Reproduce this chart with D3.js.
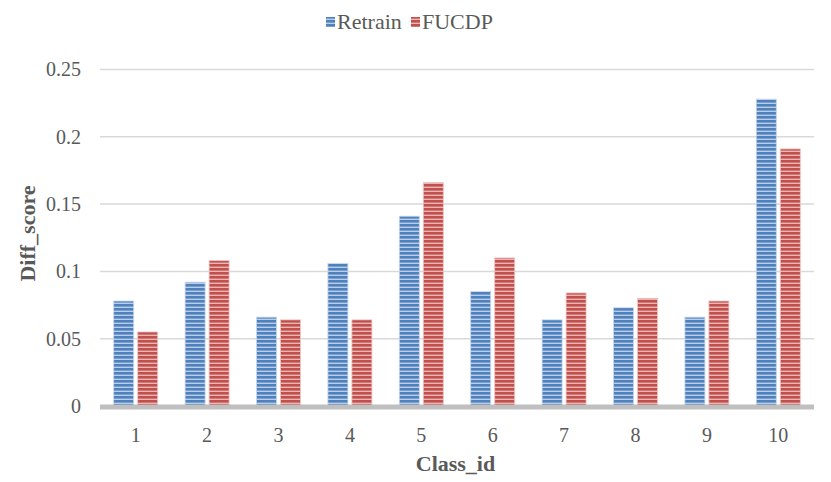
<!DOCTYPE html>
<html><head><meta charset="utf-8">
<script src="https://cdn.jsdelivr.net/npm/d3@7"></script>
<style>body{margin:0;background:#fff}svg{display:block}</style>
</head><body>
<svg id="c" width="831" height="482"></svg>
<script>
const categories = ["1","2","3","4","5","6","7","8","9","10"];
const retrain = [0.078,0.092,0.066,0.106,0.141,0.085,0.064,0.073,0.066,0.228];
const fucdp = [0.055,0.108,0.064,0.064,0.166,0.110,0.084,0.080,0.078,0.191];
const seriesNames = ["Retrain","FUCDP"];
const yTicks = [0,0.05,0.1,0.15,0.2,0.25];
const yTickLabels = ["0","0.05","0.1","0.15","0.2","0.25"];

const svg = d3.select("#c");
const font = "'Liberation Serif','Times New Roman',serif";
const M = {l:100, r:814, t:69.5, b:406};
const x = d3.scaleBand().domain(categories).range([M.l, M.r]);
const y = d3.scaleLinear().domain([0,0.25]).range([M.b, M.t]);
const barW = 20, gap = 4;

const defs = svg.append("defs");
function stripes(id, dark, light){
  const p = defs.append("pattern").attr("id",id).attr("patternUnits","userSpaceOnUse")
    .attr("width",8).attr("height",4);
  p.append("rect").attr("width",8).attr("height",4).attr("fill",light);
  p.append("rect").attr("y",0).attr("width",8).attr("height",2.6).attr("fill",dark);
}
stripes("pb","#4f81bd","#b9cde9");
stripes("pr","#c0504d","#ebb5b3");
const fills = ["url(#pb)","url(#pr)"];
const edge = ["#c5d6ee","#eec4c3"];

// gridlines
svg.append("g").selectAll("line").data(yTicks.slice(1)).join("line")
  .attr("x1",M.l).attr("x2",M.r).attr("y1",d=>y(d)).attr("y2",d=>y(d))
  .attr("stroke","#d9d9d9").attr("stroke-width",1.5);

// y axis labels
const yAxis = d3.axisLeft(y).tickValues(yTicks).tickFormat((d,i)=>yTickLabels[i]).tickSize(0).tickPadding(19);
const ya = svg.append("g").attr("transform",`translate(${M.l},0)`).call(yAxis);
ya.select(".domain").remove();
ya.selectAll("text").attr("font-family",font).attr("font-size",20).attr("fill","#595959");

// bars
const series = [retrain, fucdp];
series.forEach((vals,si)=>{
  svg.append("g").selectAll("rect").data(vals).join("rect")
    .attr("x",(d,i)=>x(categories[i]) + x.bandwidth()/2 - (barW + gap/2) + si*(barW+gap))
    .attr("y",d=>y(d))
    .attr("width",barW)
    .attr("height",d=>y(0)-y(d))
    .attr("fill",fills[si])
    .attr("stroke",edge[si]).attr("stroke-width",0.8);
});

// baseline
svg.append("line").attr("x1",M.l).attr("x2",M.r).attr("y1",y(0)+1).attr("y2",y(0)+1)
  .attr("stroke","#bfbfbf").attr("stroke-width",5);

// x axis labels
const xAxis = d3.axisBottom(x).tickSize(0).tickPadding(22);
const xa = svg.append("g").attr("transform",`translate(0,${M.b})`).call(xAxis);
xa.select(".domain").remove();
xa.selectAll("text").attr("font-family",font).attr("font-size",20).attr("fill","#595959");

// axis titles
svg.append("text").attr("x",455.5).attr("y",471).attr("text-anchor","middle")
  .attr("font-family",font).attr("font-size",22).attr("font-weight","bold").attr("fill","#595959").text("Class_id");
svg.append("text").attr("transform","translate(35,233.5) rotate(-90)").attr("text-anchor","middle")
  .attr("font-family",font).attr("font-size",22).attr("font-weight","bold").attr("fill","#595959").text("Diff_score");

// legend
const leg = svg.append("g");
const legX = [326, 411];
seriesNames.forEach((n,i)=>{
  leg.append("rect").attr("x",legX[i]).attr("y",17).attr("width",9).attr("height",10)
    .attr("fill",fills[i]);
  leg.append("text").attr("x",legX[i]+11).attr("y",29).attr("font-family",font).attr("font-size",22)
    .attr("fill","#595959").text(n);
});
</script>
</body></html>
